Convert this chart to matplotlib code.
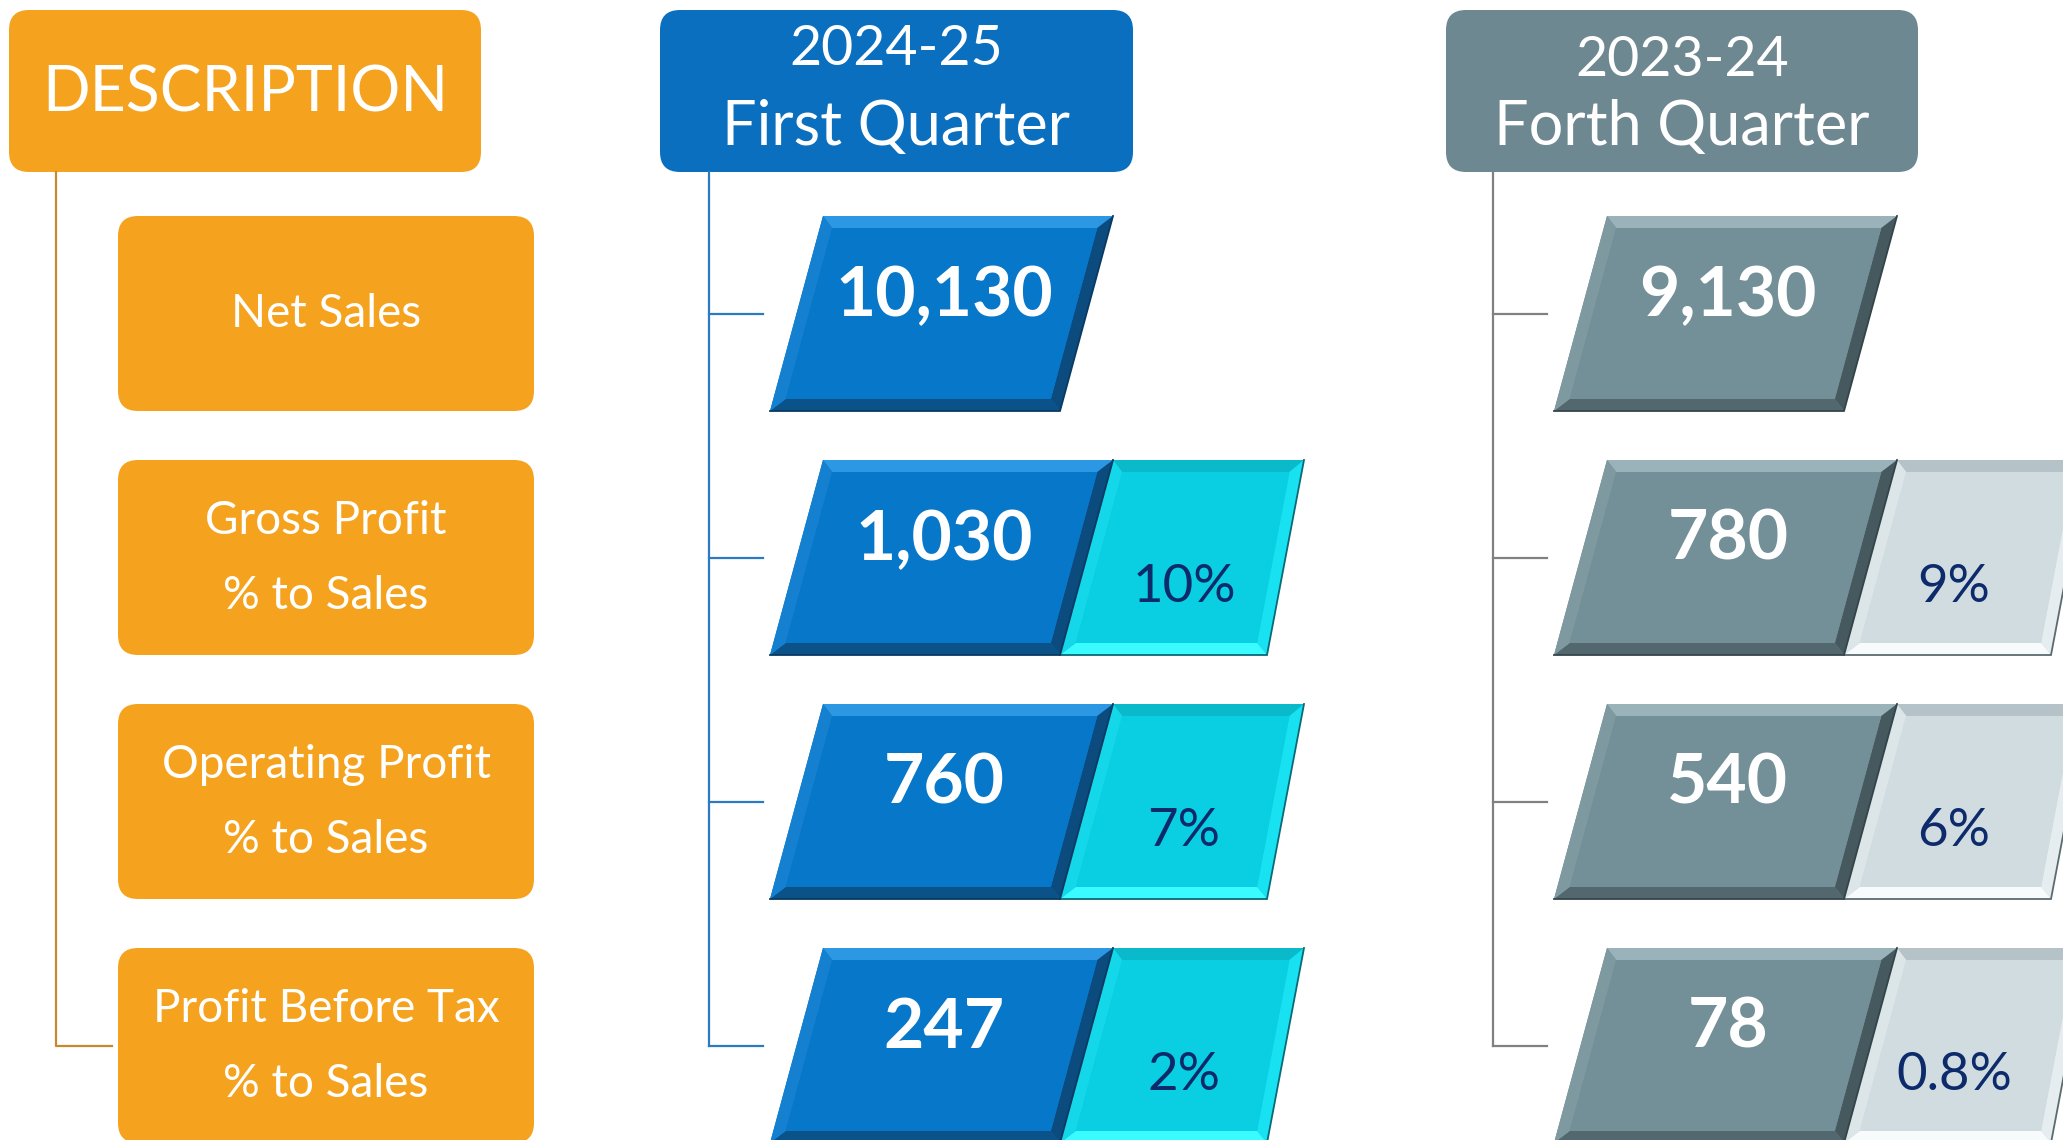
import numpy as np
import matplotlib.pyplot as plt
from matplotlib.patches import Polygon, FancyBboxPatch

# data
descriptions = [["Net Sales"], ["Gross Profit", "% to Sales"],
                ["Operating Profit", "% to Sales"], ["Profit Before Tax", "% to Sales"]]
q1_title = ["2024-25", "First Quarter"]
q4_title = ["2023-24", "Forth Quarter"]
q1_values = [10130, 1030, 760, 247]
q1_pct = [None, 10, 7, 2]
q4_values = [9130, 780, 540, 78]
q4_pct = [None, 9, 6, 0.8]

W, H = 2063, 1140
fig = plt.figure(figsize=(W / 100, H / 100), dpi=100)
ax = fig.add_axes([0, 0, 1, 1])
ax.set_xlim(0, W)
ax.set_ylim(H, 0)
ax.axis("off")

FONT = "Lato"
ORANGE = "#F5A31F"
ROW0, PITCH, ROWH = 216, 244, 195


def inset(pts, b):
    # offset every edge of a convex polygon inwards by b and intersect
    pts = np.asarray(pts, float)
    n = len(pts)
    c = pts.mean(axis=0)
    lines = []
    for i in range(n):
        p, q = pts[i], pts[(i + 1) % n]
        d = (q - p) / np.linalg.norm(q - p)
        nrm = np.array([-d[1], d[0]])
        if np.dot(c - p, nrm) < 0:
            nrm = -nrm
        lines.append((p + nrm * b, d))
    out = []
    for i in range(n):
        p1, d1 = lines[i - 1]
        p2, d2 = lines[i]
        A = np.array([d1, -d2]).T
        t = np.linalg.solve(A, p2 - p1)
        out.append(p1 + d1 * t[0])
    return np.array(out)


def bevel_shape(pts, base, top, right, bottom, left, edge, b=12):
    pts = np.asarray(pts, float)
    inner = inset(pts, b)
    ax.add_patch(Polygon(pts, closed=True, fc=base, ec="none"))
    faces = [top, right, bottom, left]  # pts order: TL, TR, BR, BL
    for i in range(4):
        j = (i + 1) % 4
        quad = [pts[i], pts[j], inner[j], inner[i]]
        ax.add_patch(Polygon(quad, closed=True, fc=faces[i], ec="none"))
    ax.add_patch(Polygon(inner, closed=True, fc=base, ec="none"))
    # thin shade on right and bottom edges
    ax.plot([pts[1][0], pts[2][0], pts[3][0]], [pts[1][1], pts[2][1], pts[3][1]],
            color=edge, lw=1.3, solid_joinstyle="miter")


def rbox(x, y, w, h, color, r=20):
    ax.add_patch(FancyBboxPatch((x, y), w, h, boxstyle=f"round,pad=0,rounding_size={r}",
                                fc=color, ec="none"))


# header boxes
rbox(9, 10, 472, 162, ORANGE)
ax.text(245, 111, "DESCRIPTION", color="white", fontsize=45, family=FONT,
        ha="center", va="baseline")

rbox(660, 10, 473, 162, "#0A6FBF")
ax.text(896, 65, q1_title[0], color="white", fontsize=40, family=FONT, ha="center", va="baseline")
ax.text(896, 145, q1_title[1], color="white", fontsize=44, family=FONT, ha="center", va="baseline")

rbox(1446, 10, 472, 162, "#6D8891")
ax.text(1682, 76, q4_title[0], color="white", fontsize=40, family=FONT, ha="center", va="baseline")
ax.text(1682, 145, q4_title[1], color="white", fontsize=44, family=FONT, ha="center", va="baseline")

# tree connectors
centers = [ROW0 + PITCH * i + ROWH / 2 for i in range(len(descriptions))]
ax.plot([56, 56, 112], [172, centers[-1], centers[-1]], color="#C8892C", lw=1.6)
ax.plot([709, 709], [172, centers[-1]], color="#2A7BC0", lw=1.6)
ax.plot([1493, 1493], [172, centers[-1]], color="#808080", lw=1.6)
for cy in centers:
    ax.plot([709, 763], [cy, cy], color="#2A7BC0", lw=1.6)
    ax.plot([1493, 1547], [cy, cy], color="#808080", lw=1.6)

blue = dict(base="#0777CA", top="#2C98E4", right="#0B4B7E", bottom="#0B5289",
            left="#1580D0", edge="#083A63")
cyan = dict(base="#0ACFE3", top="#0ABACB", right="#18E2F2", bottom="#3AFBFF",
            left="#14D8EA", edge="#0A6A75")
grey = dict(base="#738F97", top="#9AB3BA", right="#46595F", bottom="#52676E",
            left="#7F99A0", edge="#34454A")
light = dict(base="#D0DCE0", top="#B5C2C7", right="#E6EDF0", bottom="#F8FBFC",
             left="#DCE6E9", edge="#5A6B70")

for i, lines in enumerate(descriptions):
    top = ROW0 + PITCH * i
    bot = top + ROWH
    rbox(118, top, 416, ROWH, ORANGE)
    if len(lines) == 1:
        ax.text(326, top + 111, lines[0], color="white", fontsize=33, family=FONT,
                ha="center", va="baseline")
    else:
        ax.text(326, top + 74, lines[0], color="white", fontsize=33, family=FONT,
                ha="center", va="baseline")
        ax.text(326, top + 149, lines[1], color="white", fontsize=33, family=FONT,
                ha="center", va="baseline")

    for dx, px, val, pct, main, side in [(0, 1184, q1_values[i], q1_pct[i], blue, cyan),
                                         (784, 1954, q4_values[i], q4_pct[i], grey, light)]:
        if pct is not None:
            bevel_shape([(1113 + dx, top), (1304 + dx, top), (1267 + dx, bot), (1060 + dx, bot)],
                        **side)
            ax.text(px, top + 142, f"{pct:g}%", color="#0D2A6B", fontsize=38,
                    family=FONT, ha="center", va="baseline")
        bevel_shape([(823 + dx, top), (1113 + dx, top), (1060 + dx, bot), (770 + dx, bot)],
                    **main)
        ax.text(944 + dx, top + 100, f"{val:,}", color="white", fontsize=50,
                family=FONT, fontweight="bold", ha="center", va="baseline")

fig.savefig("out.png", dpi=100, facecolor="white")
